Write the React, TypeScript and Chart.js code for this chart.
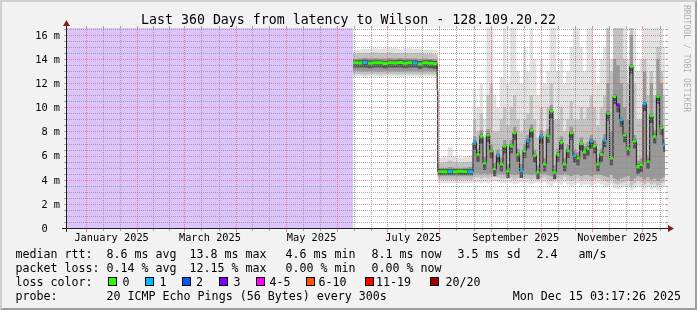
import React, { useEffect, useRef } from "react";
import { Chart, registerables } from "chart.js";
Chart.register(...registerables);

// ---------------- data ----------------
const TITLE = "Last 360 Days from latency to Wilson - 128.109.20.22";
const SPAN_DAYS = 360; // Dec 20 2024 03:17 -> Dec 15 2025 03:17
const Y_MAX = 16.58; // milliseconds
const Y_MAJOR = [0, 2, 4, 6, 8, 10, 12, 14, 16];
const Y_LABELS = ["0  ", "2 m", "4 m", "6 m", "8 m", "10 m", "12 m", "14 m", "16 m"];
// days (from window start) of first day of each month, Jan 2025 .. Jan 2026
const MONTH_STARTS = [11.86, 42.86, 70.86, 101.86, 131.86, 162.86, 192.86, 223.86, 254.86, 284.86, 315.86, 345.86, 376.86];
const MONTH_LABELS = ["January 2025", "", "March 2025", "", "May 2025", "", "July 2025", "", "September 2025", "", "November 2025", ""];

const UNKNOWN_FROM = 0;
const UNKNOWN_TO = 172.2;
const END_DAY = 359.5;

const BUCKET_DAYS = [
  172.2, 175, 178, 181, 184, 187, 190, 193, 196, 199, 202, 205, 208, 211, 214, 217, 220,
  222.7,
  223.1, 226, 229, 232, 235, 238, 241,
  244.2, 246.2, 248.2, 250.2, 252.2, 254.2, 256.2, 258.2, 260.2, 262.2,
  264.2, 266.2, 268.2, 270.2, 272.2, 274.2, 276.2, 278.2, 280.2, 282.2,
  284.2, 286.2, 288.2, 290.2, 292.2, 294.2, 296.2, 298.2, 300.2, 302.2,
  304.2, 306.2, 308.2, 310.2, 312.2, 314.2, 316.2, 318.2, 320.2, 322.2,
  324.2, 326.2, 328.2, 330.2, 332.2, 334.2, 336.2, 338.2, 340.2, 342.2,
  344.2, 346.2, 348.2, 350.2, 352.2, 354.2, 356.2, 358.2,
];

const MEDIAN = [
  13.7, 13.68, 13.72, 13.66, 13.7, 13.7, 13.64, 13.7, 13.68, 13.72, 13.66, 13.7, 13.68, 13.6, 13.7, 13.66, 13.62,
  11.4,
  4.67, 4.66, 4.68, 4.66, 4.7, 4.67, 4.66,
  7.1, 6.1, 7.6, 5.4, 7.7, 6.4, 4.9, 6.0, 5.3, 6.8,
  4.75, 6.8, 7.9, 6.1, 4.75, 6.4, 7.2, 8.1, 6.0, 4.64,
  7.6, 5.3, 7.65, 9.7, 4.64, 6.1, 7.1, 5.3, 6.4, 7.9,
  6.0, 5.8, 7.0, 6.3, 6.6, 7.2, 6.8, 5.3, 6.1, 7.3,
  9.5, 5.8, 10.9, 10.2, 9.0, 7.7, 6.6, 13.4, 7.2, 5.1,
  5.25, 10.3, 5.5, 9.3, 7.6, 10.9, 8.3, 6.9,
];

const LOSS = [
  0, 0, 1, 0, 0, 0, 0, 0, 0, 0, 0, 0, 1, 0, 0, 0, 0,
  1,
  0, 0, 1, 0, 0, 0, 1,
  1, 0, 0, 0, 0, 0, 0, 1, 0, 0,
  0, 0, 0, 0, 1, 0, 1, 0, 0, 0,
  1, 0, 0, 0, 0, 0, 0, 0, 0, 0,
  1, 0, 0, 0, 0, 1, 0, 0, 0, 1,
  0, 0, 0, 3, 1, 0, 0, 0, 0, 0,
  0, 1, 0, 0, 0, 0, 0, 1,
];

// smoke bands: light outer (1), mid (2), dark (3), core (4)
const SMOKE_HI1 = [
  14.75, 14.8, 14.85, 14.85, 14.9, 14.85, 14.9, 14.95, 14.9, 14.85, 14.9, 14.9, 14.85, 14.85, 14.8, 14.8, 14.75,
  14.6,
  5.8, 5.9, 6.7, 5.9, 5.8, 5.9, 6.0,
  11.5, 10, 12, 9, 16.6, 16.6, 11, 10, 12.5, 16.6,
  12, 16.6, 16.6, 13, 12, 15, 13, 16.6, 14, 11,
  14, 12, 13, 16.6, 16.6, 13, 14, 12, 13, 15,
  16.6, 16.6, 15, 13, 16.6, 16.6, 14, 12, 14, 15,
  16.6, 14, 16.6, 16.6, 16.6, 16.6, 14, 16.6, 16.6, 13,
  14, 16.6, 16.6, 16.6, 16.6, 16.6, 16.6, 15,
];
const SMOKE_HI2 = [
  14.45, 14.5, 14.5, 14.5, 14.55, 14.5, 14.5, 14.55, 14.5, 14.5, 14.5, 14.5, 14.5, 14.5, 14.45, 14.45, 14.4,
  14.2,
  5.4, 5.45, 5.6, 5.45, 5.4, 5.45, 5.5,
  9, 8, 9.5, 7.5, 11, 12, 8, 8, 9, 10,
  8.5, 10, 11, 9, 8, 9, 9.5, 11, 9, 7.5,
  10, 8, 10, 12, 9, 9, 10, 8, 9, 10.5,
  9, 9, 10, 9, 10, 11, 10, 8.5, 10, 11,
  16.6, 13, 16.6, 16.6, 16.6, 14, 12, 16.6, 12, 9,
  9, 14, 11, 13, 11, 15, 13, 11,
];
const SMOKE_HI3 = [
  14.0, 14.05, 14.1, 14.05, 14.1, 14.05, 14.05, 14.1, 14.05, 14.1, 14.05, 14.05, 14.05, 14.0, 14.05, 14.0, 14.0,
  13.6,
  5.0, 5.0, 5.05, 5.0, 5.0, 5.0, 5.05,
  7.6, 6.6, 8.1, 5.9, 8.2, 6.9, 5.4, 6.5, 5.8, 7.3,
  5.3, 7.3, 8.4, 6.6, 5.3, 6.9, 7.7, 8.6, 6.5, 5.2,
  8.1, 5.8, 8.2, 10.2, 5.2, 6.6, 7.6, 5.8, 6.9, 8.4,
  6.5, 6.3, 7.5, 6.8, 7.1, 7.7, 7.3, 5.8, 6.6, 7.8,
  12.0, 8.0, 14.0, 13.5, 12.0, 10.0, 9.0, 16.0, 7.7, 5.6,
  5.8, 13.0, 6.0, 12.0, 8.1, 14.0, 12.0, 7.4,
];
const SMOKE_HI4 = [
  13.9, 13.9, 13.95, 13.9, 13.9, 13.9, 13.85, 13.9, 13.9, 13.95, 13.9, 13.9, 13.9, 13.85, 13.9, 13.9, 13.85,
  11.6,
  4.9, 4.9, 4.9, 4.9, 4.9, 4.9, 4.9,
  7.25, 6.25, 7.75, 5.55, 7.85, 6.55, 5.05, 6.15, 5.45, 6.95,
  4.9, 6.95, 8.05, 6.25, 4.9, 6.55, 7.35, 8.25, 6.15, 4.8,
  7.75, 5.45, 7.8, 9.85, 4.8, 6.25, 7.25, 5.45, 6.55, 8.05,
  6.15, 5.95, 7.15, 6.45, 6.75, 7.35, 6.95, 5.45, 6.25, 7.45,
  9.65, 5.95, 11.05, 10.35, 9.15, 7.85, 6.75, 13.55, 7.35, 5.25,
  5.4, 10.45, 5.65, 9.45, 7.75, 11.05, 8.45, 7.05,
];
const SMOKE_LO4 = [
  13.3, 13.3, 13.3, 13.25, 13.3, 13.3, 13.25, 13.3, 13.3, 13.3, 13.25, 13.3, 13.3, 13.2, 13.3, 13.25, 13.2,
  11.2,
  4.4, 4.4, 4.4, 4.4, 4.4, 4.4, 4.4,
  6.5, 5.5, 7.0, 4.8, 7.1, 5.8, 4.3, 5.4, 4.7, 6.2,
  4.15, 6.2, 7.3, 5.5, 4.15, 5.8, 6.6, 7.5, 5.4, 4.04,
  7.0, 4.7, 7.05, 9.1, 4.04, 5.5, 6.5, 4.7, 5.8, 7.3,
  5.4, 5.2, 6.4, 5.7, 6.0, 6.6, 6.2, 4.7, 5.5, 6.7,
  8.9, 5.2, 10.3, 9.6, 8.4, 7.1, 6.0, 12.8, 6.6, 4.5,
  4.65, 9.7, 4.9, 8.7, 7.0, 10.3, 7.7, 6.3,
];
const SMOKE_LO3 = [
  13.0, 13.0, 12.95, 13.0, 13.0, 12.95, 13.0, 13.0, 13.0, 12.95, 13.0, 13.0, 13.0, 12.95, 13.0, 13.0, 12.95,
  5.0,
  4.3, 4.3, 4.3, 4.3, 4.3, 4.3, 4.3,
  4.5, 4.5, 4.45, 4.5, 4.45, 4.5, 4.55, 4.5, 4.45, 4.45,
  4.5, 4.45, 4.4, 4.45, 4.5, 4.45, 4.45, 4.4, 4.45, 4.5,
  4.45, 4.5, 4.4, 4.3, 4.45, 4.45, 4.4, 4.5, 4.4, 4.3,
  4.4, 4.45, 4.3, 4.4, 4.4, 4.3, 4.4, 4.45, 4.4, 4.3,
  4.2, 4.4, 4.1, 4.0, 4.1, 4.2, 4.3, 3.9, 4.1, 4.3,
  4.2, 4.0, 4.2, 4.0, 4.1, 3.9, 4.1, 4.2,
];
const SMOKE_LO2 = [
  12.75, 12.75, 12.7, 12.75, 12.75, 12.7, 12.75, 12.75, 12.75, 12.7, 12.75, 12.75, 12.75, 12.7, 12.75, 12.75, 12.7,
  4.6,
  4.0, 4.0, 4.0, 4.0, 4.0, 4.0, 4.0,
  4.2, 4.2, 4.1, 4.2, 4.1, 4.2, 4.25, 4.2, 4.1, 4.1,
  4.2, 4.1, 4.0, 4.1, 4.2, 4.1, 4.1, 4.0, 4.1, 4.2,
  4.1, 4.2, 4.0, 3.9, 4.1, 4.1, 4.0, 4.2, 4.0, 3.9,
  4.0, 4.1, 3.9, 4.0, 4.0, 3.9, 4.0, 4.1, 4.0, 3.9,
  3.8, 4.0, 3.7, 3.6, 3.7, 3.8, 3.9, 3.5, 3.7, 3.9,
  3.8, 3.6, 3.8, 3.6, 3.7, 3.5, 3.7, 3.8,
];
const SMOKE_LO1 = [
  12.55, 12.55, 12.5, 12.55, 12.55, 12.5, 12.55, 12.55, 12.55, 12.5, 12.55, 12.55, 12.55, 12.5, 12.55, 12.55, 12.5,
  4.3,
  3.7, 3.7, 3.7, 3.7, 3.7, 3.7, 3.7,
  3.8, 3.8, 3.7, 3.8, 3.7, 3.8, 3.9, 3.8, 3.7, 3.7,
  3.8, 3.7, 3.6, 3.7, 3.8, 3.7, 3.7, 3.6, 3.7, 3.8,
  3.7, 3.8, 3.6, 3.5, 3.7, 3.7, 3.6, 3.8, 3.6, 3.5,
  3.6, 3.7, 3.5, 3.6, 3.6, 3.5, 3.6, 3.7, 3.6, 3.5,
  3.4, 3.6, 3.3, 3.2, 3.3, 3.4, 3.5, 3.1, 3.3, 3.5,
  3.4, 3.2, 3.4, 3.2, 3.3, 3.1, 3.3, 3.4,
];

const LOSS_LABELS = ["0", "1", "2", "3", "4-5", "6-10", "11-19", "20/20"];
const LOSS_COLORS = ["#26ff00", "#00b8ff", "#0059ff", "#7e00ff", "#ff00ff", "#ff5500", "#ff0000", "#a10000"];
const LOSS_UPPER = [0, 1, 2, 3, 5, 10, 19, 20];

const RTT_STATS = ["8.6 ms avg", "13.8 ms max", "4.6 ms min", "8.1 ms now", "3.5 ms sd", "2.4", "am/s"];
const PKT_STATS = ["0.14 % avg", "12.15 % max", "0.00 % min", "0.00 % now"];
const PROBE_TEXT = "20 ICMP Echo Pings (56 Bytes) every 300s";
const STAMP_TEXT = "Mon Dec 15 03:17:26 2025";
const WATERMARK = "RRDTOOL / TOBI OETIKER";

// ---------------- layout / style ----------------
const W = 697;
const H = 310;
const X0 = 66;
const XS = 600;
const Y0 = 228;
const YS = 200;
const MONO = '"DejaVu Sans Mono", monospace';
const GRID = "rgba(143,143,143,0.75)";
const MGRID = "rgba(222,79,79,0.6)";
const AXIS = "#1f1f1f";
const ARROW = "#801f1f";
const UNKNOWN_COLOR = "#dac4f9";

function lossColor(n: number) {
  for (let i = 0; i < LOSS_UPPER.length; i++) if (n <= LOSS_UPPER[i]) return LOSS_COLORS[i];
  return LOSS_COLORS[LOSS_COLORS.length - 1];
}

const deco = {
  id: "rrdDeco",
  beforeDraw(chart: any) {
    const ctx = chart.ctx as CanvasRenderingContext2D;
    const a = chart.chartArea;
    ctx.save();
    ctx.fillStyle = "#f2f2f2";
    ctx.fillRect(0, 0, W, H);
    ctx.fillStyle = "#cfcfcf";
    ctx.beginPath();
    ctx.moveTo(0, H); ctx.lineTo(2, H - 2); ctx.lineTo(2, 2); ctx.lineTo(W - 2, 2); ctx.lineTo(W, 0); ctx.lineTo(0, 0);
    ctx.closePath(); ctx.fill();
    ctx.fillStyle = "#9e9e9e";
    ctx.beginPath();
    ctx.moveTo(2, H - 2); ctx.lineTo(W - 2, H - 2); ctx.lineTo(W - 2, 2); ctx.lineTo(W, 0); ctx.lineTo(W, H); ctx.lineTo(0, H);
    ctx.closePath(); ctx.fill();
    ctx.fillStyle = "#ffffff";
    ctx.fillRect(a.left, a.top, a.right - a.left, a.bottom - a.top);
    ctx.restore();
  },
  afterDatasetsDraw(chart: any) {
    const ctx = chart.ctx as CanvasRenderingContext2D;
    const a = chart.chartArea;
    const xs = chart.scales.x;
    const ys = chart.scales.y;
    const L = Math.round(a.left), R = Math.round(a.right), T = Math.round(a.top), B = Math.round(a.bottom);
    ctx.save();
    const hdots = (y: number, c: string) => {
      ctx.fillStyle = c;
      for (let x = L + 1; x < R; x += 2) ctx.fillRect(x, y, 1, 1);
      ctx.fillRect(L - 2, y, 2, 1);
      ctx.fillRect(R, y, 2, 1);
    };
    const vdots = (x: number, c: string, major: boolean) => {
      ctx.fillStyle = c;
      for (let y = T; y < B; y += 2) ctx.fillRect(x, y, 1, 1);
      ctx.fillRect(x, T - 2, 1, 2);
      ctx.fillRect(x, B + 1, 1, major ? 3 : 2);
    };
    for (let k = 1; k * 0.5 <= Y_MAX; k++) {
      const v = k * 0.5;
      const y = Math.round(ys.getPixelForValue(v));
      hdots(y, Y_MAJOR.includes(v) ? MGRID : GRID);
    }
    for (let m = 0; m < MONTH_STARTS.length - 1; m++) {
      const s = MONTH_STARTS[m], e = MONTH_STARTS[m + 1];
      for (const f of [1 / 3, 2 / 3]) {
        const d = s + (e - s) * f;
        if (d <= 0 || d >= SPAN_DAYS) continue;
        vdots(Math.round(xs.getPixelForValue(d)), GRID, false);
      }
    }
    for (let m = 0; m < MONTH_STARTS.length; m++) {
      const d = MONTH_STARTS[m];
      if (d <= 0 || d >= SPAN_DAYS) continue;
      vdots(Math.round(xs.getPixelForValue(d)), MGRID, true);
    }
    // axes
    ctx.fillStyle = AXIS;
    ctx.fillRect(L - 4, B, R - L + 8, 1);
    ctx.fillRect(L, T - 4, 1, B - T + 8);
    ctx.fillStyle = ARROW;
    ctx.beginPath(); ctx.moveTo(R + 2, B - 3); ctx.lineTo(R + 2, B + 4); ctx.lineTo(R + 8, B + 0.5); ctx.closePath(); ctx.fill();
    ctx.beginPath(); ctx.moveTo(L - 3, T - 2); ctx.lineTo(L + 4, T - 2); ctx.lineTo(L + 0.5, T - 8); ctx.closePath(); ctx.fill();

    // texts
    ctx.fillStyle = "#000";
    ctx.textBaseline = "alphabetic";
    ctx.font = `10.3px ${MONO}`;
    ctx.textAlign = "right";
    Y_MAJOR.forEach((v, i) => {
      const y = ys.getPixelForValue(v);
      ctx.fillText(Y_LABELS[i], a.left - 6, y + 3.8);
    });
    ctx.textAlign = "center";
    for (let m = 0; m < MONTH_LABELS.length; m++) {
      if (!MONTH_LABELS[m]) continue;
      const mid = (MONTH_STARTS[m] + MONTH_STARTS[m + 1]) / 2;
      ctx.fillText(MONTH_LABELS[m], xs.getPixelForValue(mid), 241);
    }
    ctx.font = `13.25px ${MONO}`;
    ctx.fillText(TITLE, W / 2, 24);

    ctx.font = `11.65px ${MONO}`;
    ctx.textAlign = "left";
    ctx.fillText("median rtt:", 15.5, 258);
    [106.5, 189.5, 285.5, 371.5, 457.5, 536.5, 578.5].forEach((x, i) => ctx.fillText(RTT_STATS[i], x, 258));
    ctx.fillText("packet loss:", 15.5, 272);
    [106.5, 189.5, 285.5, 371.5].forEach((x, i) => ctx.fillText(PKT_STATS[i], x, 272));
    ctx.fillText("loss color:", 15.5, 286);
    const bx = [108, 145, 182, 219, 256, 306, 365, 430];
    const tx = [122.5, 159.5, 196, 233.5, 269.5, 318.5, 376, 445.5];
    bx.forEach((x, i) => {
      ctx.fillStyle = "#000";
      ctx.fillRect(x, 277, 9, 9);
      ctx.fillStyle = LOSS_COLORS[i];
      ctx.fillRect(x + 1, 278, 7, 7);
      ctx.fillStyle = "#000";
      ctx.fillText(LOSS_LABELS[i], tx[i], 286);
    });
    ctx.fillText("probe:", 15.5, 300);
    ctx.fillText(PROBE_TEXT, 106.5, 300);
    ctx.textAlign = "right";
    ctx.fillText(STAMP_TEXT, 681, 300);

    // watermark
    ctx.save();
    ctx.translate(684, 5);
    ctx.rotate(Math.PI / 2);
    ctx.font = `8.1px ${MONO}`;
    ctx.textAlign = "left";
    ctx.fillStyle = "rgba(0,0,0,0.3)";
    ctx.fillText(WATERMARK, 0, 0);
    ctx.restore();
    ctx.restore();
  },
};

function pts(vals: number[]) {
  const d = BUCKET_DAYS.map((t, i) => ({ x: t, y: vals[i] }));
  d.push({ x: END_DAY, y: vals[vals.length - 1] });
  return d;
}

export default function App() {
  const ref = useRef<HTMLCanvasElement>(null);
  useEffect(() => {
    const canvas = ref.current!;
    const BOX = 0.12; // half height of median marker in ms (style)
    const base = { pointRadius: 0, borderWidth: 0, stepped: "before" as const, tension: 0 };
    const chart = new Chart(canvas, {
      type: "line",
      data: {
        datasets: [
          {
            ...base, order: 1, data: pts(MEDIAN.map((v) => v + BOX)), fill: "+1",
            backgroundColor: LOSS_COLORS[0],
            segment: { backgroundColor: (c: any) => lossColor(LOSS[Math.min(c.p0DataIndex, LOSS.length - 1)]) },
          },
          { ...base, order: 1, data: pts(MEDIAN.map((v) => v - BOX)), fill: false },
          { ...base, order: 2, data: pts(MEDIAN), borderWidth: 1, borderColor: "#1a1a1a", fill: false },
          { ...base, order: 3, data: pts(SMOKE_HI4), fill: "+1", backgroundColor: "#555555" },
          { ...base, order: 3, data: pts(SMOKE_LO4), fill: false },
          { ...base, order: 4, data: pts(SMOKE_HI3), fill: "+1", backgroundColor: "#999999" },
          { ...base, order: 4, data: pts(SMOKE_LO3), fill: false },
          { ...base, order: 5, data: pts(SMOKE_HI2), fill: "+1", backgroundColor: "#c2c2c2" },
          { ...base, order: 5, data: pts(SMOKE_LO2), fill: false },
          { ...base, order: 6, data: pts(SMOKE_HI1), fill: "+1", backgroundColor: "#e1e1e1" },
          { ...base, order: 6, data: pts(SMOKE_LO1), fill: false },
          {
            ...base, order: 7, stepped: false,
            data: [{ x: UNKNOWN_FROM, y: Y_MAX }, { x: UNKNOWN_TO, y: Y_MAX }],
            fill: "origin", backgroundColor: UNKNOWN_COLOR,
          },
        ],
      },
      options: {
        responsive: false,
        animation: false,
        devicePixelRatio: 1,
        layout: { padding: { left: X0, right: W - X0 - XS, top: Y0 - YS, bottom: H - Y0 } },
        scales: {
          x: { type: "linear", min: 0, max: SPAN_DAYS, display: false },
          y: { type: "linear", min: 0, max: Y_MAX, display: false },
        },
        plugins: { legend: { display: false }, tooltip: { enabled: false } },
        events: [],
      },
      plugins: [deco],
    } as any);
    return () => chart.destroy();
  }, []);
  return (
    <canvas
      ref={ref}
      width={W}
      height={H}
      style={{ position: "absolute", left: 0, top: 0, width: W, height: H }}
    />
  );
}
